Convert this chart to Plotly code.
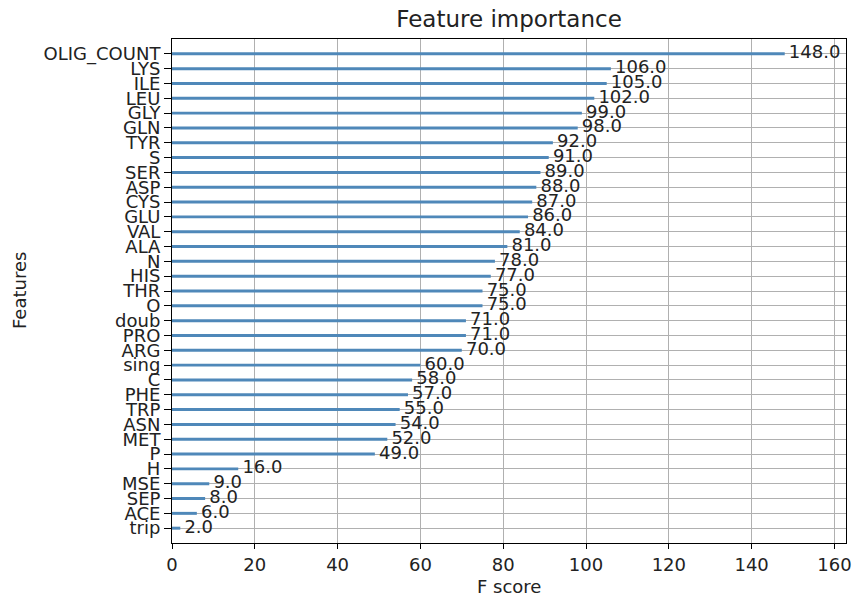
import plotly.graph_objects as go

features = ["OLIG_COUNT", "LYS", "ILE", "LEU", "GLY", "GLN", "TYR", "S", "SER", "ASP",
            "CYS", "GLU", "VAL", "ALA", "N", "HIS", "THR", "O", "doub", "PRO",
            "ARG", "sing", "C", "PHE", "TRP", "ASN", "MET", "P", "H", "MSE",
            "SEP", "ACE", "trip"]
scores = [148, 106, 105, 102, 99, 98, 92, 91, 89, 88,
          87, 86, 84, 81, 78, 77, 75, 75, 71, 71,
          70, 60, 58, 57, 55, 54, 52, 49, 16, 9,
          8, 6, 2]
x_ticks = [0, 20, 40, 60, 80, 100, 120, 140, 160]

# bottom-to-top order (matplotlib barh style)
feat_bt = features[::-1]
score_bt = scores[::-1]
labels_bt = [f"{v:.1f}" for v in score_bt]

FONT = "DejaVu Sans"
TXT = "#222222"
W, H = 852, 597
fig = go.Figure()
fig.add_trace(go.Bar(
    x=score_bt, y=feat_bt, orientation="h", width=0.2,
    marker=dict(color="#4f88b9", line=dict(width=0)),
    hoverinfo="x+y", showlegend=False,
))
fig.add_trace(go.Scatter(
    x=[v + 1 for v in score_bt], y=feat_bt, mode="text", text=labels_bt,
    textposition="middle right", textfont=dict(family=FONT, size=18, color=TXT),
    showlegend=False, hoverinfo="skip", cliponaxis=False,
))

fig.update_layout(
    width=W, height=H,
    margin=dict(l=172, r=6, t=39, b=54, autoexpand=False),
    paper_bgcolor="white", plot_bgcolor="white",
    font=dict(family=FONT, size=18, color=TXT),
    title=dict(text="Feature importance", x=0.5, xanchor="center", xref="paper",
               y=1 - 19 / H, yref="container", yanchor="middle",
               font=dict(family=FONT, size=23, color=TXT)),
    annotations=[
        dict(text="F score", xref="paper", yref="paper", x=0.5, y=-43 / 504,
             xanchor="center", yanchor="middle", showarrow=False,
             font=dict(family=FONT, size=18, color=TXT)),
        dict(text="Features", xref="paper", yref="paper", x=-153 / 674, y=0.5,
             xanchor="center", yanchor="middle", showarrow=False, textangle=-90,
             font=dict(family=FONT, size=18, color=TXT)),
    ],
)
fig.update_xaxes(
    range=[0, 148 * 1.1], tickmode="array", tickvals=x_ticks,
    ticktext=[str(t) for t in x_ticks], automargin=False,
    showgrid=True, gridcolor="#b0b0b0", gridwidth=1,
    showline=True, linecolor="black", linewidth=1, mirror=True,
    ticks="outside", ticklen=5, tickcolor="black", zeroline=False,
)
fig.update_yaxes(
    type="category", categoryorder="array", categoryarray=feat_bt,
    tickmode="array", tickvals=feat_bt, ticktext=feat_bt,
    range=[-1, len(features)], automargin=False,
    showgrid=True, gridcolor="#b0b0b0", gridwidth=1,
    showline=True, linecolor="black", linewidth=1, mirror=True,
    ticks="outside", ticklen=7, tickcolor="black", zeroline=False,
)
fig.write_html("out.html", config={"displayModeBar": False},
               post_script="document.body.style.margin='0';document.body.style.overflow='hidden';")
